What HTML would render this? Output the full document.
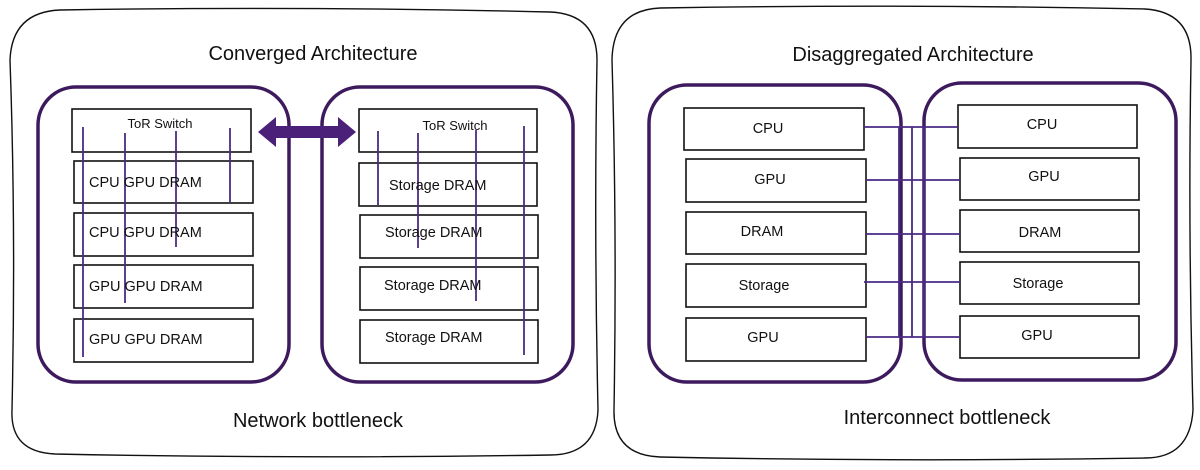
<!DOCTYPE html>
<html><head><style>body{margin:0;background:#fff}svg{display:block}text{font-family:"Liberation Sans",sans-serif;fill:#111}</style></head><body>
<svg width="1200" height="470" viewBox="0 0 1200 470" xmlns="http://www.w3.org/2000/svg">
<g fill="none" stroke="#111" stroke-width="1.4">
<path d="M60 10 Q300 6 550 12 Q597 14 597 60 Q594 230 598 410 Q596 455 550 455 Q300 459 55 454 Q10 452 12 410 Q16 230 10 60 Q12 12 60 10Z"/>
<path d="M660 8 Q900 4 1145 9 Q1192 12 1191 60 Q1188 230 1193 410 Q1190 458 1145 458 Q900 462 660 457 Q613 455 614 410 Q617 230 612 60 Q613 10 660 8Z"/>
</g>
<g fill="none" stroke="#3d1a5e" stroke-width="3.5">
<rect x="38" y="87" width="251" height="295" rx="38"/>
<rect x="322" y="87" width="251" height="295" rx="38"/>
<rect x="649" y="85" width="252" height="297" rx="38"/>
<rect x="924" y="83" width="252" height="297" rx="38"/>
</g>
<g fill="#fff" stroke="#111" stroke-width="1.6">
<rect x="72" y="109" width="179" height="43"/>
<rect x="74" y="161" width="179" height="42"/>
<rect x="74" y="213" width="179" height="43"/>
<rect x="74" y="265" width="179" height="43"/>
<rect x="74" y="319" width="179" height="43"/>
<rect x="359" y="109" width="178" height="43"/>
<rect x="359" y="163" width="178" height="43"/>
<rect x="360" y="215" width="178" height="43"/>
<rect x="360" y="267" width="178" height="43"/>
<rect x="360" y="320" width="178" height="43"/>
<rect x="684" y="108" width="180" height="42"/>
<rect x="686" y="159" width="180" height="43"/>
<rect x="686" y="212" width="180" height="42"/>
<rect x="686" y="264" width="180" height="43"/>
<rect x="686" y="318" width="180" height="43"/>
<rect x="958" y="105" width="179" height="43"/>
<rect x="960" y="158" width="179" height="42"/>
<rect x="960" y="210" width="179" height="42"/>
<rect x="960" y="262" width="179" height="42"/>
<rect x="960" y="316" width="179" height="42"/>
</g>
<g stroke="#4b2a85" stroke-width="1.8">
<line x1="83" y1="127" x2="83" y2="357"/><line x1="125" y1="133" x2="125" y2="303"/>
<line x1="176" y1="131" x2="176" y2="247"/><line x1="230" y1="128" x2="230" y2="202"/>
<line x1="378" y1="131" x2="378" y2="205"/><line x1="418" y1="133" x2="418" y2="248"/>
<line x1="476" y1="130" x2="476" y2="301"/><line x1="524" y1="126" x2="524" y2="355"/>
<line x1="864" y1="127" x2="958" y2="127"/><line x1="866" y1="180" x2="960" y2="180"/>
<line x1="866" y1="234" x2="960" y2="234"/><line x1="864" y1="282" x2="960" y2="282"/>
<line x1="866" y1="337" x2="960" y2="337"/>
<line x1="899" y1="127" x2="899" y2="337"/><line x1="912" y1="127" x2="912" y2="337"/><line x1="924" y1="127" x2="924" y2="337"/>
</g>
<polygon fill="#4b2078" points="258,132 276,117 276,126 338,126 338,117 356,132 338,147 338,138 276,138 276,147"/>
<g font-size="13"><text x="160" y="128" text-anchor="middle">ToR Switch</text><text x="455" y="130" text-anchor="middle">ToR Switch</text></g>
<g font-size="14.5">
<text x="89" y="187">CPU GPU DRAM</text><text x="89" y="237">CPU GPU DRAM</text>
<text x="89" y="291">GPU GPU DRAM</text><text x="89" y="344">GPU GPU DRAM</text>
<text x="389" y="190">Storage DRAM</text><text x="385" y="237">Storage DRAM</text>
<text x="384" y="290">Storage DRAM</text><text x="385" y="342">Storage DRAM</text>
</g>
<g font-size="14.5" text-anchor="middle">
<text x="768" y="133">CPU</text><text x="770" y="184">GPU</text><text x="762" y="236">DRAM</text>
<text x="764" y="290">Storage</text><text x="763" y="342">GPU</text>
<text x="1042" y="129">CPU</text><text x="1044" y="181">GPU</text><text x="1040" y="237">DRAM</text>
<text x="1038" y="288">Storage</text><text x="1037" y="340">GPU</text>
</g>
<g font-size="20" text-anchor="middle">
<text x="313" y="60">Converged Architecture</text>
<text x="318" y="427">Network bottleneck</text>
<text x="913" y="61">Disaggregated Architecture</text>
<text x="947" y="424">Interconnect bottleneck</text>
</g>
</svg>
</body></html>
